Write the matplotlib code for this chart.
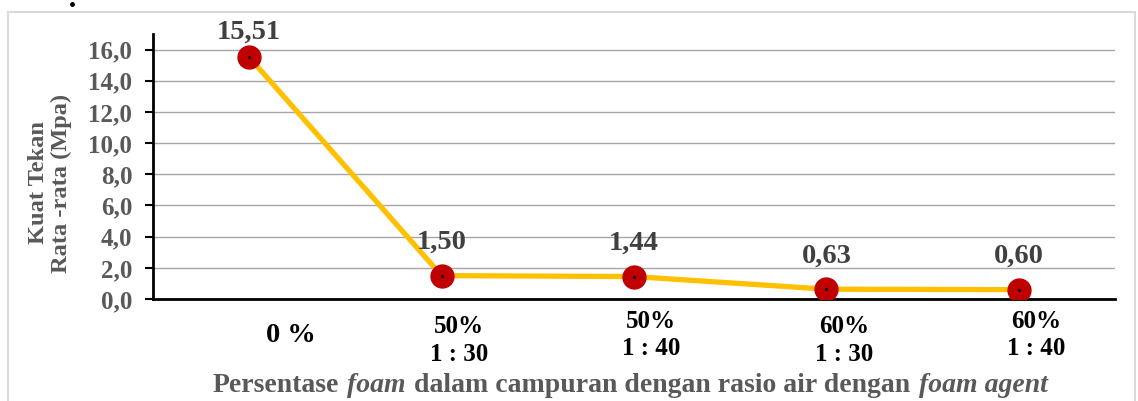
import matplotlib
matplotlib.use("Agg")
import matplotlib.pyplot as plt
from matplotlib.patches import Rectangle
from matplotlib.lines import Line2D
from matplotlib.offsetbox import TextArea, HPacker, AnnotationBbox

categories = ["0 %", "50%\n1 : 30", "50%\n1 : 40", "60%\n1 : 30", "60%\n1 : 40"]
values = [15.51, 1.50, 1.44, 0.63, 0.60]
value_labels = ["15,51", "1,50", "1,44", "0,63", "0,60"]
yticks = [0, 2, 4, 6, 8, 10, 12, 14, 16]

plt.rcParams['font.family'] = ['Liberation Serif', 'DejaVu Serif']
plt.rcParams['font.weight'] = 'bold'
gray = '#595959'

fig = plt.figure(figsize=(11.38, 4.01), dpi=100)
fig.patches.append(Rectangle((8/1138, -0.1), 1127/1138, 1.1 - 12/401,
                             transform=fig.transFigure, fill=False,
                             edgecolor='#d9d9d9', lw=1.5))
# stray dot at top left
fig.add_artist(Line2D([72/1138], [1 - 4/401], marker='o', ms=2.5, color='black',
                      transform=fig.transFigure))

ax = fig.add_axes([153/1138, 102/401, (1115-153)/1138, (299-34)/401])
x = list(range(len(values)))
ax.plot(x, values, color='#FFC000', lw=3.8, zorder=3)
ax.plot(x, values, 'o', color='#C00000', ms=16.5, zorder=4)
ax.plot(x, values, 'o', color='black', ms=1.2, zorder=5)

ax.set_xlim(-0.5, 4.5)
ax.set_ylim(0, 17)
ax.set_yticks(yticks)
ax.set_yticklabels([f"{v:.1f}".replace('.', ',') for v in yticks])
ax.tick_params(axis='y', direction='out', length=6, width=1.5, pad=9,
               labelsize=18, labelcolor=gray)
ax.tick_params(axis='x', length=0, labelbottom=False)
ax.grid(axis='y', color='#a6a6a6', lw=1)
ax.set_axisbelow(True)
for s in ['top', 'right']:
    ax.spines[s].set_visible(False)
ax.spines['left'].set_linewidth(2)
ax.spines['bottom'].set_linewidth(2)

# data labels
offsets = [18, 24, 24, 24, 24]
for xi, v, lab, off in zip(x, values, value_labels, offsets):
    ax.annotate(lab, (xi, v), xytext=(0, off), textcoords='offset points',
                ha='center', va='center', fontsize=20.5, color='#404040')

# category labels (placed below axis)
cat_dy = [26, 30, 26, 30, 26]
for xi, lab, dy in zip(x, categories, cat_dy):
    if xi == 0:
        ax.annotate(lab, (xi, 0), xytext=(30, -dy), textcoords='offset points',
                    ha='center', va='center', fontsize=20.5, color='black')
    else:
        ax.annotate(lab, (xi, 0), xytext=(12.5, -dy), textcoords='offset points',
                    ha='center', va='center', fontsize=18, color='black',
                    linespacing=1.25)

# y label
fig.text(50/1138, 1 - 183/401, "Kuat Tekan\nRata -rata (Mpa)", rotation=90,
         ha='center', va='center', multialignment='center',
         fontsize=17.6, color=gray, linespacing=1.1)

# x label with italic parts
parts = [("Persentase", 'normal'), ("foam", 'italic'),
         ("dalam campuran dengan rasio air dengan", 'normal'),
         ("foam agent", 'italic')]
areas = [TextArea(t, textprops=dict(fontsize=20, color=gray, fontweight='bold',
                                    fontstyle=st))
         for t, st in parts]
box = HPacker(children=areas, pad=0, sep=6, align='baseline')
ab = AnnotationBbox(box, (630/1138, 1 - 385/401), xycoords='figure fraction',
                    frameon=False, box_alignment=(0.5, 0.5))
fig.add_artist(ab)

fig.savefig('out.png', dpi=100)
